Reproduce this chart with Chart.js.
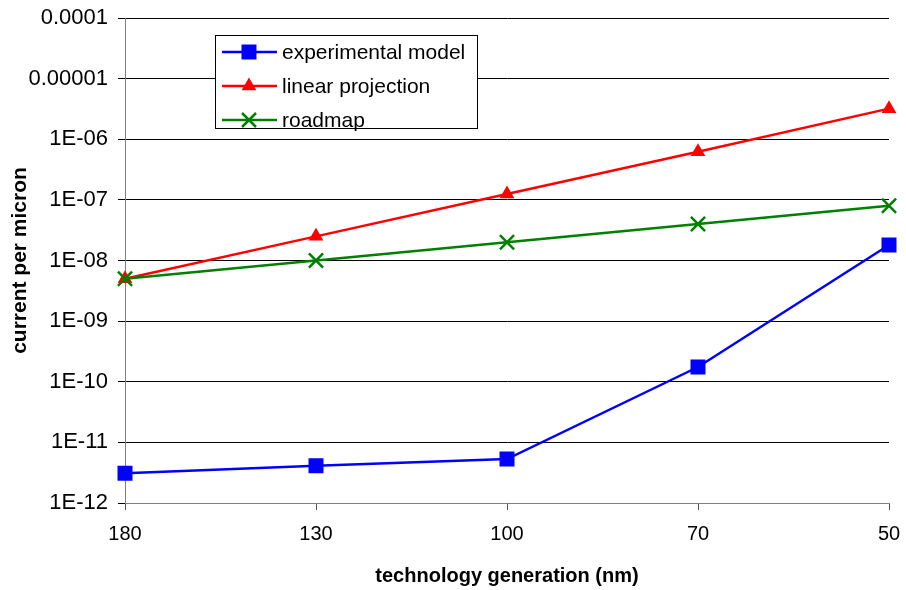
<!DOCTYPE html>
<html>
<head>
<meta charset="utf-8">
<script src="https://cdn.jsdelivr.net/npm/chart.js@4/dist/chart.umd.min.js"></script>
<style>
  html, body { margin: 0; padding: 0; background: #fff; }
  #chart { display: block; }
</style>
</head>
<body>
<canvas id="chart" width="906" height="590"></canvas>
<script>
// technology nodes (nm)
const generations = ['180', '130', '100', '70', '50'];

const experimentalModel = [3.1e-12, 4.1e-12, 5.3e-12, 1.75e-10, 1.8e-8];
const linearProjection = [5e-9, 2.5e-8, 1.25e-7, 6.2e-7, 3.2e-6];
const roadmap = [5e-9, 1e-8, 2e-8, 4e-8, 8e-8];

const yTickValues = [1e-12, 1e-11, 1e-10, 1e-9, 1e-8, 1e-7, 1e-6, 1e-5, 1e-4];
const yTickLabels = ['1E-12', '1E-11', '1E-10', '1E-09', '1E-08', '1E-07', '1E-06', '0.00001', '0.0001'];

const seriesNames = ['experimental model', 'linear projection', 'roadmap'];

const FONT = "'Liberation Sans', Arial, sans-serif";

function drawMarker(ctx, style, x, y, color) {
    ctx.save();
    ctx.fillStyle = color;
    ctx.strokeStyle = color;
    ctx.beginPath();
    if (style === 'rect') {
        ctx.rect(x - 7.5, y - 7.5, 15, 15);
        ctx.fill();
    } else if (style === 'triangle') {
        ctx.moveTo(x, y - 8.5);
        ctx.lineTo(x + 7.4, y + 4.3);
        ctx.lineTo(x - 7.4, y + 4.3);
        ctx.closePath();
        ctx.fill();
    } else {
        ctx.lineWidth = 2.5;
        ctx.moveTo(x - 7, y - 7);
        ctx.lineTo(x + 7, y + 7);
        ctx.moveTo(x + 7, y - 7);
        ctx.lineTo(x - 7, y + 7);
        ctx.stroke();
    }
    ctx.restore();
}

// legend box sits inside the plot, like the original
const boxLegend = {
    id: 'boxLegend',
    afterDraw(chart) {
        const ctx = chart.ctx;
        const left = 215.5, top = 35.5, w = 262, h = 93;
        ctx.save();
        ctx.fillStyle = '#fff';
        ctx.fillRect(left, top, w, h);
        ctx.strokeStyle = '#000';
        ctx.lineWidth = 1;
        ctx.strokeRect(left, top, w, h);
        const rows = [52, 86, 120];
        chart.data.datasets.forEach((ds, i) => {
            const y = rows[i];
            ctx.strokeStyle = ds.borderColor;
            ctx.lineWidth = 2.5;
            ctx.beginPath();
            ctx.moveTo(222, y);
            ctx.lineTo(277, y);
            ctx.stroke();
            drawMarker(ctx, ds.pointStyle, 249, y, ds.borderColor);
            ctx.fillStyle = '#000';
            ctx.font = '21px ' + FONT;
            ctx.textBaseline = 'middle';
            ctx.textAlign = 'left';
            ctx.fillText(ds.label, 282, y + 1);
        });
        ctx.restore();
    }
};

function noScalePadding(scale) {
    scale.paddingLeft = 0;
    scale.paddingRight = 0;
    scale.paddingTop = 0;
    scale.paddingBottom = 0;
}

const ctx = document.getElementById('chart').getContext('2d');
new Chart(ctx, {
    type: 'line',
    data: {
        labels: generations,
        datasets: [
            {
                label: seriesNames[0],
                data: experimentalModel,
                borderColor: '#0000ff',
                backgroundColor: '#0000ff',
                borderWidth: 2.5,
                pointStyle: 'rect',
                pointRadius: 10.6,
                pointBorderWidth: 0,
                order: 2
            },
            {
                label: seriesNames[1],
                data: linearProjection,
                borderColor: '#ff0000',
                backgroundColor: '#ff0000',
                borderWidth: 2.5,
                pointStyle: 'triangle',
                pointRadius: 8.5,
                pointBorderWidth: 0,
                order: 1
            },
            {
                label: seriesNames[2],
                data: roadmap,
                borderColor: '#008000',
                backgroundColor: '#008000',
                borderWidth: 2.5,
                pointStyle: 'crossRot',
                pointRadius: 10,
                pointBorderWidth: 2.5,
                order: 0
            }
        ]
    },
    options: {
        responsive: false,
        animation: false,
        devicePixelRatio: 1,
        layout: { padding: { top: 18, right: 17, bottom: 0, left: 0 } },
        plugins: {
            legend: { display: false },
            tooltip: { enabled: false }
        },
        scales: {
            x: {
                type: 'category',
                offset: false,
                grid: {
                    drawOnChartArea: false,
                    drawTicks: true,
                    tickLength: 7,
                    color: '#555'
                },
                border: { color: '#808080', width: 1 },
                ticks: {
                    color: '#000',
                    font: { family: FONT, size: 20 },
                    padding: 12,
                    maxRotation: 0
                },
                title: {
                    display: true,
                    text: 'technology generation (nm)',
                    color: '#000',
                    font: { family: FONT, size: 20, weight: 'bold' },
                    padding: { top: 4, bottom: 2 }
                },
                afterFit(scale) {
                    scale.height = 87;
                    noScalePadding(scale);
                }
            },
            y: {
                type: 'logarithmic',
                min: yTickValues[0],
                max: yTickValues[yTickValues.length - 1],
                grid: {
                    color: '#000',
                    lineWidth: 1,
                    tickLength: 7
                },
                border: { color: '#808080', width: 1 },
                afterBuildTicks(scale) {
                    scale.ticks = yTickValues.map(v => ({ value: v }));
                },
                ticks: {
                    color: '#000',
                    font: { family: FONT, size: 22 },
                    padding: 10,
                    autoSkip: false,
                    callback(value) {
                        const i = yTickValues.findIndex(v => Math.abs(Math.log10(v) - Math.log10(value)) < 1e-6);
                        return i >= 0 ? yTickLabels[i] : '';
                    }
                },
                title: {
                    display: true,
                    text: 'current per micron',
                    color: '#000',
                    font: { family: FONT, size: 21, weight: 'bold' },
                    padding: { top: 8, bottom: 4 }
                },
                afterFit(scale) {
                    scale.width = 125;
                    noScalePadding(scale);
                }
            }
        }
    },
    plugins: [boxLegend]
});
</script>
</body>
</html>
